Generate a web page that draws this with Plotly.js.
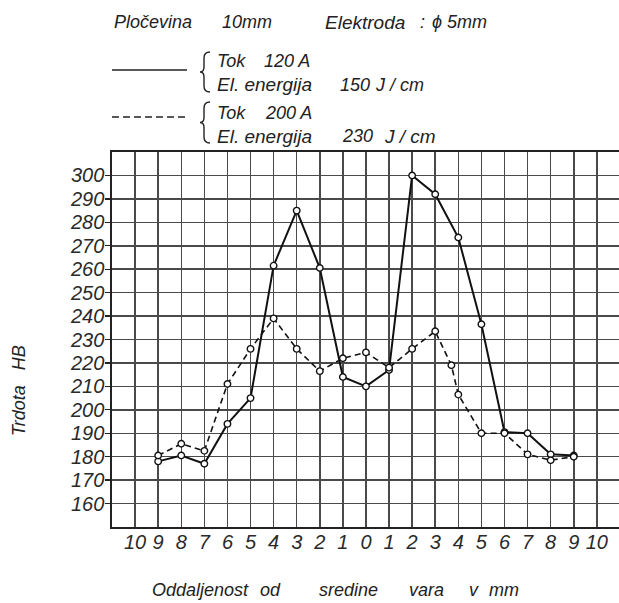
<!DOCTYPE html>
<html>
<head>
<meta charset="utf-8">
<script src="https://cdn.plot.ly/plotly-3.0.1.min.js"></script>
<style>html,body{margin:0;padding:0;background:#fff;}#chart{width:619px;height:603px;}</style>
</head>
<body>
<div id="chart"></div>
<script>
// ---- data ----
var xTickVals = [-10,-9,-8,-7,-6,-5,-4,-3,-2,-1,0,1,2,3,4,5,6,7,8,9,10];
var xTickText = ["10","9","8","7","6","5","4","3","2","1","0","1","2","3","4","5","6","7","8","9","10"];
var yTickVals = [160,170,180,190,200,210,220,230,240,250,260,270,280,290,300];

var solidX = [-9,-8,-7,-6,-5,-4,-3,-2,-1,0,1,2,3,4,5,6,7,8,9];
var solidY = [178,180.5,177,194,205,261.5,285,260.5,214,210,217,300,292,273.5,236.5,190.5,190,181,180.5];

var dashX = [-9,-8,-7,-6,-5,-4,-3,-2,-1,0,1,2,3,3.7,4,5,6,7,8,9];
var dashY = [180.5,185.5,182.5,211,226,239,226,216.5,222,224.5,218,226,233.5,219,206.5,190,190,181,178.5,180];

var solidName = "Tok 120 A, El. energija 150 J/cm";
var dashName = "Tok 200 A, El. energija 230 J/cm";

// ---- layout helpers (pixel -> paper) ----
var L = 112, R = 0, T = 152, B = 76, W = 619, H = 603;
var PW = W - L - R, PH = H - T - B;
function px(x){ return (x - L) / PW; }
function py(y){ return (H - B - y) / PH; }

var FF = "Liberation Sans, Arial, sans-serif";
var txtColor = "#222";
function ann(text, x, y, size, opts){
  var a = {text: text, xref: "paper", yref: "paper", x: px(x), y: py(y),
    xanchor: "left", yanchor: "middle", showarrow: false,
    font: {family: FF, size: size || 18, color: txtColor, style: "italic"}};
  if (opts) for (var k in opts) a[k] = opts[k];
  return a;
}
function brace(x, y0, y1){
  var m = (y0 + y1) / 2, xi = x - 6, xt = x - 10;
  var pts = [
    ["M", x, y0], ["Q", xi, y0, xi, y0 + 6], ["L", xi, m - 5],
    ["Q", xi, m, xt, m], ["Q", xi, m, xi, m + 5], ["L", xi, y1 - 6],
    ["Q", xi, y1, x, y1]
  ];
  var s = pts.map(function(p){
    var out = p[0];
    for (var i = 1; i < p.length; i += 2) out += " " + px(p[i]).toFixed(5) + "," + py(p[i+1]).toFixed(5);
    return out;
  }).join(" ");
  return {type: "path", xref: "paper", yref: "paper", path: s,
    line: {color: "#222", width: 1.4}};
}

var traces = [
  {x: solidX, y: solidY, name: solidName, type: "scatter", mode: "lines+markers",
   line: {color: "#111", width: 2},
   marker: {symbol: "circle", size: 6.5, color: "#fff", line: {color: "#111", width: 1.4}}},
  {x: dashX, y: dashY, name: dashName, type: "scatter", mode: "lines+markers",
   line: {color: "#111", width: 1.6, dash: "6px,4px"},
   marker: {symbol: "circle", size: 6.5, color: "#fff", line: {color: "#111", width: 1.4}}}
];

var layout = {
  width: W, height: H,
  margin: {l: L, r: R, t: T, b: B, pad: 0},
  paper_bgcolor: "#fff", plot_bgcolor: "#fff",
  showlegend: false,
  xaxis: {
    range: [-11, 10.96], tickmode: "array", tickvals: xTickVals, ticktext: xTickText,
    showgrid: true, gridcolor: "#4a4a4a", gridwidth: 1.5,
    zeroline: false, showline: true, linecolor: "#222", linewidth: 1.7, mirror: true,
    ticks: "", ticklabelstandoff: -4,
    tickfont: {family: FF, size: 20, color: "#2a2a2a", style: "italic"},
    fixedrange: true
  },
  yaxis: {
    range: [150, 310], tickmode: "array", tickvals: yTickVals,
    showgrid: true, gridcolor: "#4a4a4a", gridwidth: 1.5,
    zeroline: false, showline: true, linecolor: "#222", linewidth: 1.7,
    ticks: "outside", ticklen: 5, tickcolor: "#222", tickwidth: 1.3,
    ticklabelstandoff: -3,
    tickfont: {family: FF, size: 20, color: "#2a2a2a", style: "italic"},
    fixedrange: true
  },
  shapes: [
    {type: "line", xref: "paper", yref: "paper", x0: px(112), x1: px(187), y0: py(70), y1: py(70),
     line: {color: "#222", width: 1.6}},
    {type: "line", xref: "paper", yref: "paper", x0: px(112), x1: px(187), y0: py(117), y1: py(117),
     line: {color: "#222", width: 1.6, dash: "7px,4px"}},
    brace(210, 52, 92),
    brace(210, 102, 143)
  ],
  annotations: [
    ann("Pločevina", 112, 22, 18),
    ann("10mm", 220, 22, 18),
    ann("Elektroda", 323, 22, 19),
    ann(":", 418, 22, 18),
    ann("ϕ 5mm", 430, 22, 18),
    ann("Tok", 215, 61, 18),
    ann("120 A", 262, 61, 18),
    ann("El. energija", 215, 85, 19),
    ann("150", 338, 85, 18),
    ann("J / cm", 373, 85, 18),
    ann("Tok", 215, 113, 18),
    ann("200 A", 263, 113, 18),
    ann("El. energija", 215, 136, 19),
    ann("230", 340, 136, 18),
    ann("J / cm", 382, 136, 19),
    ann("Trdota\u00a0\u00a0\u00a0HB", 19, 391, 18, {xanchor: "center", yanchor: "middle", textangle: -90}),
    ann("Oddaljenost", 150, 590, 18),
    ann("od", 258, 590, 18),
    ann("sredine", 317, 590, 18),
    ann("vara", 407, 590, 18),
    ann("v", 467, 590, 18),
    ann("mm", 487, 590, 18)
  ]
};

Plotly.newPlot("chart", traces, layout, {staticPlot: true, displayModeBar: false});
</script>
</body>
</html>
